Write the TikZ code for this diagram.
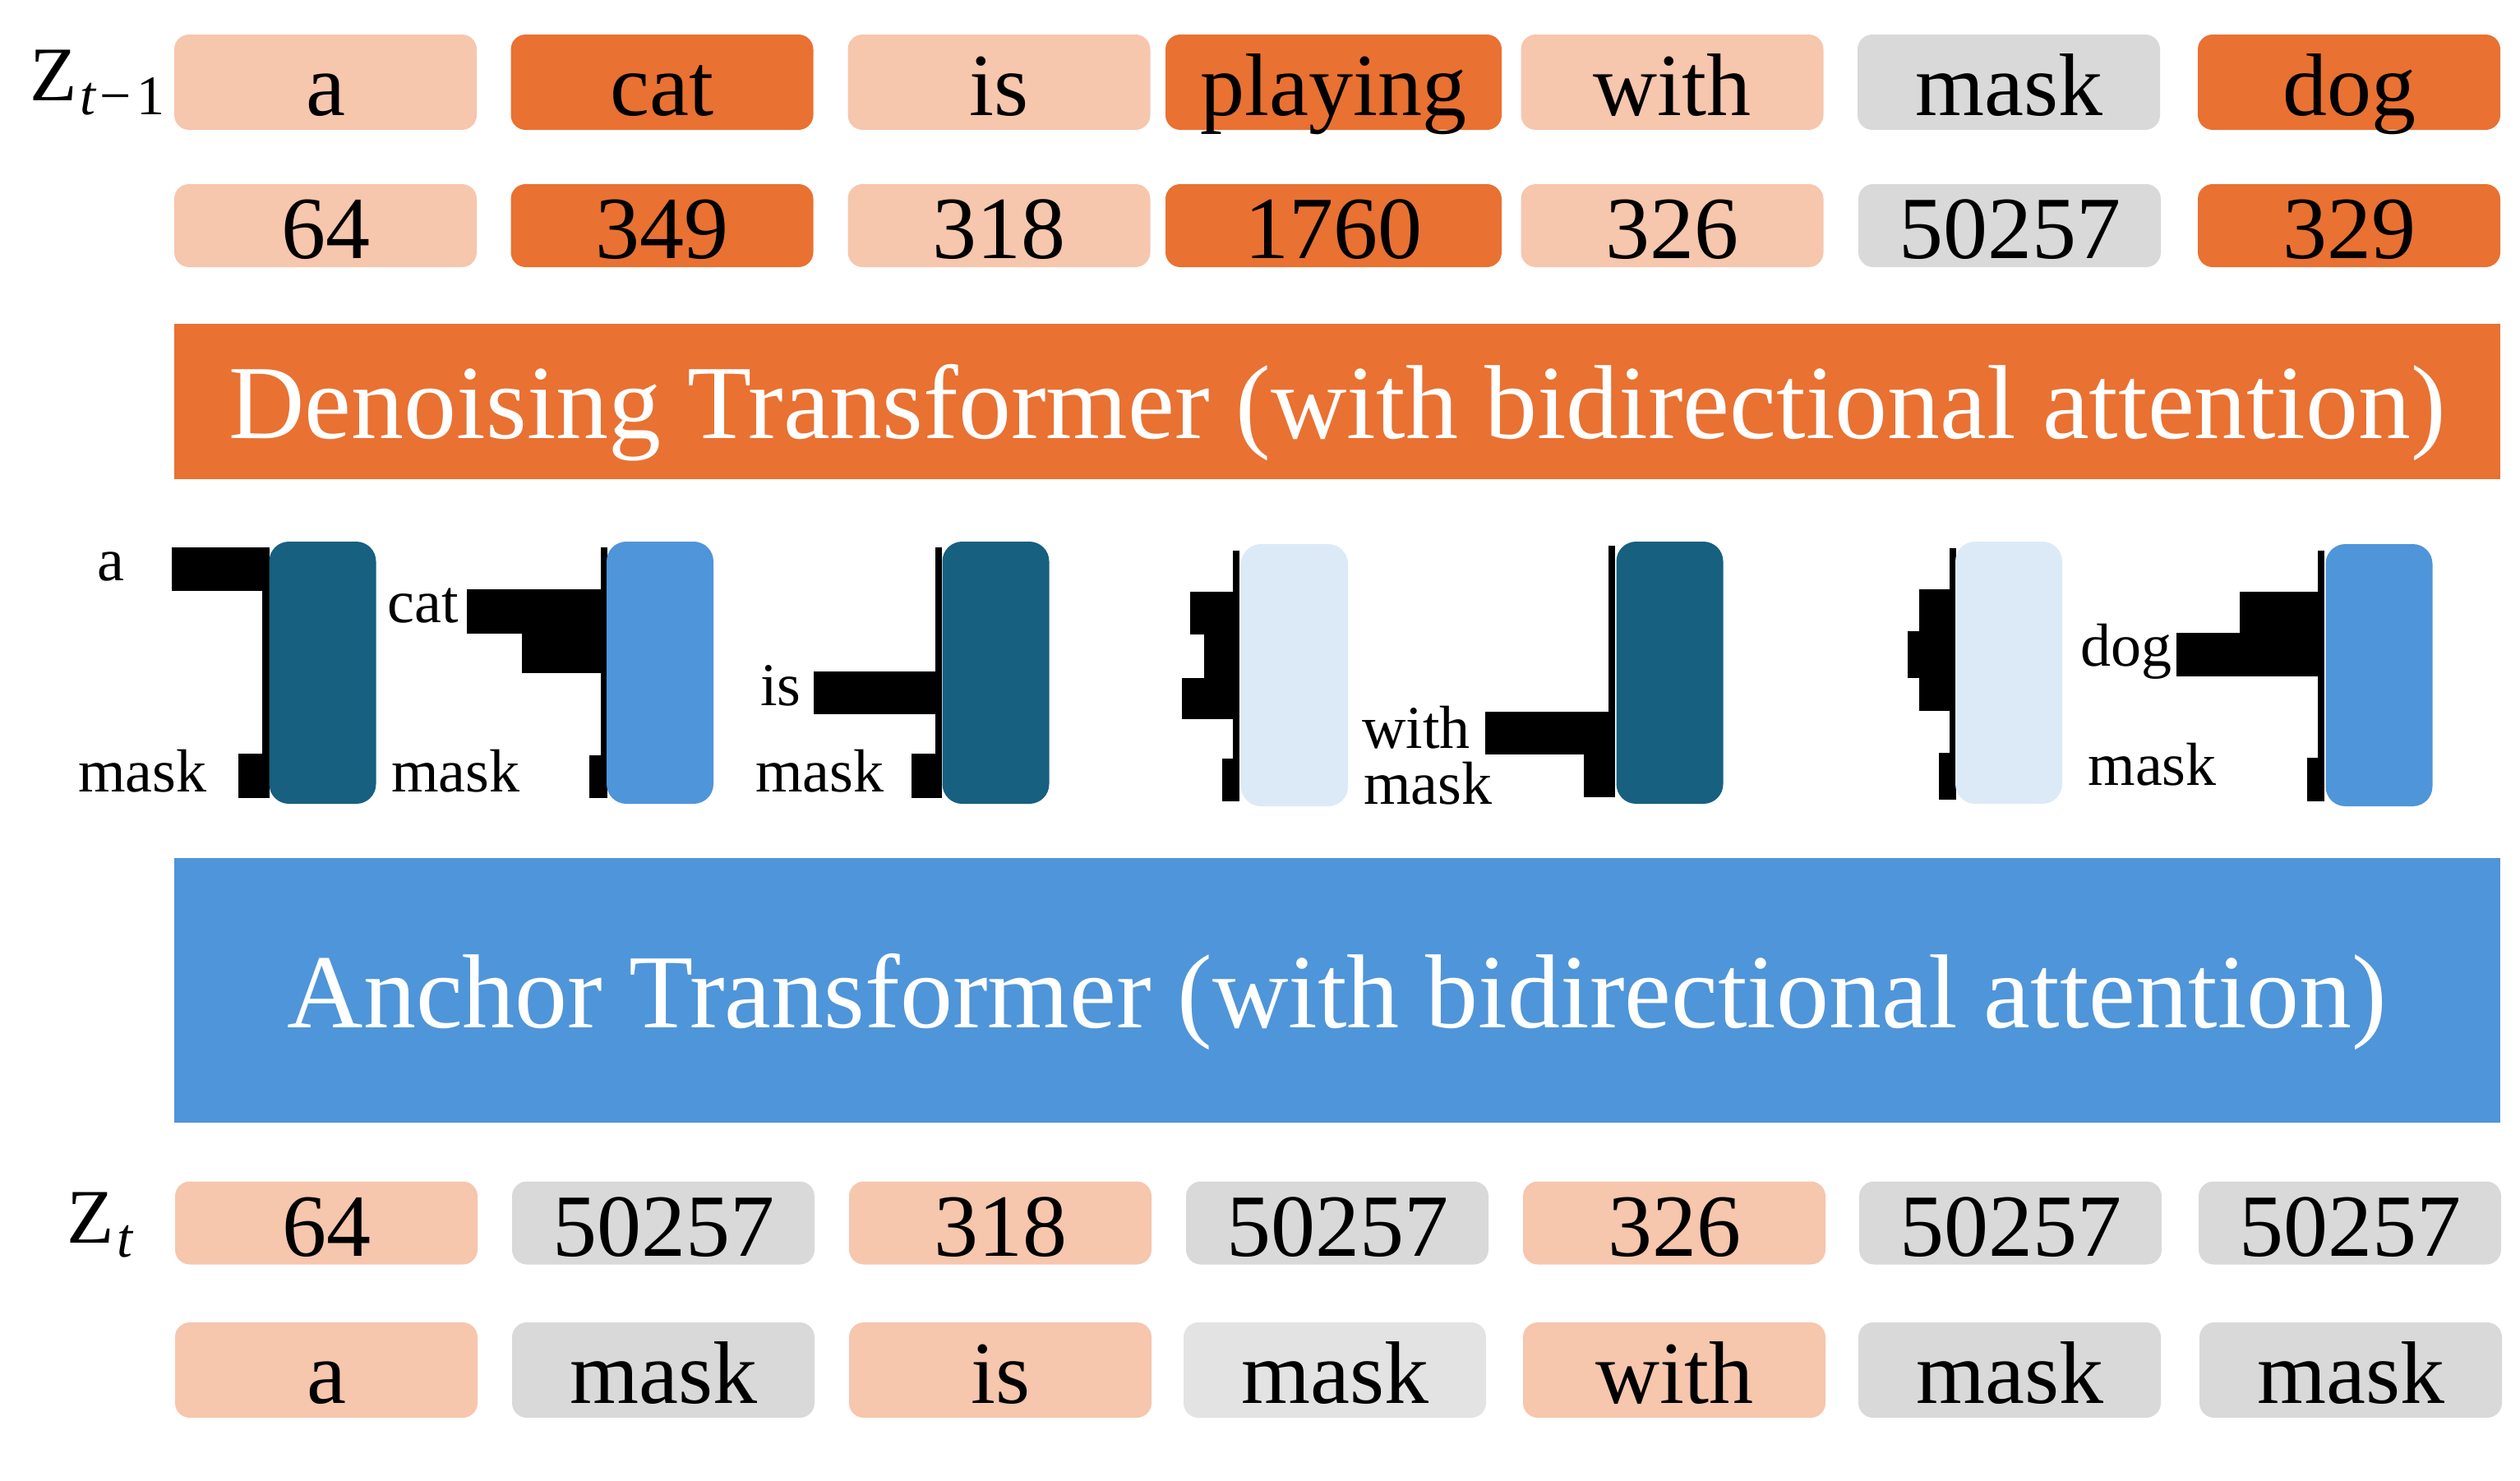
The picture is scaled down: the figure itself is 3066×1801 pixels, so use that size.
\documentclass[tikz,border=0pt]{standalone}
\usepackage{fontspec}
\setmainfont{Liberation Serif}
\definecolor{orng}{HTML}{E97132}
\definecolor{peach}{HTML}{F6C6AD}
\definecolor{gry}{HTML}{D9D9D9}
\definecolor{lgry}{HTML}{E3E3E3}
\definecolor{dkblue}{HTML}{17607F}
\definecolor{midblue}{HTML}{4F95D9}
\definecolor{ltblue}{HTML}{DCEAF7}
\begin{document}
\begin{tikzpicture}[x=0.5pt,y=-0.5pt,
  tok/.style={rounded corners=9pt, inner sep=0pt, minimum width=184pt,
    text height=44pt, text depth=4pt, font=\fontsize{54pt}{60pt}\selectfont},
  tallrow/.style={tok, minimum height=58pt},
  shortrow/.style={tok, minimum height=50.5pt},
  bigbar/.style={inner sep=0pt, minimum width=1415pt, text=white,
    text height=50pt, text depth=5pt, font=\fontsize{64pt}{70pt}\selectfont},
  hbox/.style={rounded corners=12pt, inner sep=0pt, minimum width=65pt, minimum height=159.5pt},
  hlab/.style={inner sep=0pt, anchor=base west, font=\fontsize{37pt}{40pt}\selectfont},
  zlab/.style={inner sep=0pt, anchor=base west}
]
\useasboundingbox (0,0) rectangle (3066,1801);

% ---------- Z_{t-1} rows ----------
\node[zlab] (zt1) at (36,122) {\fontsize{47pt}{50pt}\selectfont Z\kern2pt\raisebox{-8.5pt}{\fontsize{34pt}{36pt}\selectfont\itshape t\upshape\kern2.5pt−\kern3pt1}};
\node[tallrow, fill=peach]   (w1) at (396,100)    {a};
\node[tallrow, fill=orng]    (w2) at (805.5,100)  {cat};
\node[tallrow, fill=peach]   (w3) at (1215.5,100) {is};
\node[tallrow, fill=orng, minimum width=204.5pt] (w4) at (1622.5,100) {playing};
\node[tallrow, fill=peach]   (w5) at (2034.5,100) {with};
\node[tallrow, fill=gry]     (w6) at (2444,100)   {mask};
\node[tallrow, fill=orng]    (w7) at (2858,100)   {dog};

\node[shortrow, fill=peach]  (n1) at (396,274.5)    {64};
\node[shortrow, fill=orng]   (n2) at (805.5,274.5)  {349};
\node[shortrow, fill=peach]  (n3) at (1215.5,274.5) {318};
\node[shortrow, fill=orng, minimum width=204.5pt] (n4) at (1622.5,274.5) {1760};
\node[shortrow, fill=peach]  (n5) at (2034.5,274.5) {326};
\node[shortrow, fill=gry]    (n6) at (2445,274.5)   {50257};
\node[shortrow, fill=orng]   (n7) at (2858,274.5)   {329};

% ---------- Denoising transformer ----------
\node[bigbar, fill=orng, minimum height=94.5pt] (den) at (1627,488.5)
  {Denoising Transformer (with bidirectional attention)};

% ---------- attention histograms ----------
% panel 1 (a)
\fill (209,666) rectangle (319,719);
\fill (290,917) rectangle (319,971);
\fill (319,666) rectangle (328,971);
\node[hbox, fill=dkblue] (h1) at (392.5,818.5) {};
\node[hlab] (l1a) at (118,706) {a};
\node[hlab] (l1m) at (95,963) {mask};
% panel 2 (cat)
\fill (568,717) rectangle (731,771);
\fill (635,771) rectangle (731,819);
\fill (717,919) rectangle (731,971);
\fill (731,666) rectangle (739,971);
\node[hbox, fill=midblue] (h2) at (803,818.5) {};
\node[hlab] (l2a) at (471,757) {cat};
\node[hlab] (l2m) at (476,963) {mask};
% panel 3 (is)
\fill (990,817) rectangle (1138,869);
\fill (1109,917) rectangle (1138,971);
\fill (1138,666) rectangle (1146,971);
\node[hbox, fill=dkblue] (h3) at (1211.5,818.5) {};
\node[hlab] (l3a) at (925,858) {is};
\node[hlab] (l3m) at (919,963) {mask};
% panel 4
\fill (1448,720) rectangle (1500,772);
\fill (1465,772) rectangle (1500,825);
\fill (1438,825) rectangle (1500,875);
\fill (1487,923) rectangle (1500,975);
\fill (1500,670) rectangle (1508,975);
\node[hbox, fill=ltblue] (h4) at (1575,821.5) {};
% panel 5 (with)
\fill (1807,866) rectangle (1957,918);
\fill (1927,918) rectangle (1957,970);
\fill (1957,664) rectangle (1965,970);
\node[hbox, fill=dkblue] (h5) at (2031.5,818.5) {};
\node[hlab] (l5a) at (1657,910) {with};
\node[hlab] (l5m) at (1659,978) {mask};
% panel 6
\fill (2335,717) rectangle (2372,768);
\fill (2321,768) rectangle (2372,825);
\fill (2335,825) rectangle (2372,865);
\fill (2359,916) rectangle (2372,973);
\fill (2372,667) rectangle (2380,973);
\node[hbox, fill=ltblue] (h6) at (2444,818.5) {};
% panel 7 (dog)
\fill (2725,720) rectangle (2820,770);
\fill (2648,770) rectangle (2820,823);
\fill (2807,922) rectangle (2820,975);
\fill (2820,670) rectangle (2828,975);
\node[hbox, fill=midblue] (h7) at (2894.5,821.5) {};
\node[hlab] (l7a) at (2531,810) {dog};
\node[hlab] (l7m) at (2540,955) {mask};

% ---------- Anchor transformer ----------
\node[bigbar, fill=midblue, minimum height=161pt] (anc) at (1627,1205)
  {Anchor Transformer (with bidirectional attention)};

% ---------- Z_t rows ----------
\node[zlab] (zt) at (81,1512) {\fontsize{47pt}{50pt}\selectfont Z\kern2pt\raisebox{-8.5pt}{\fontsize{34pt}{36pt}\selectfont\itshape t}};
\node[shortrow, fill=peach] (m1) at (397,1488)  {64};
\node[shortrow, fill=gry]   (m2) at (807,1488)  {50257};
\node[shortrow, fill=peach] (m3) at (1217,1488) {318};
\node[shortrow, fill=gry]   (m4) at (1627,1488) {50257};
\node[shortrow, fill=peach] (m5) at (2037,1488) {326};
\node[shortrow, fill=gry]   (m6) at (2446,1488) {50257};
\node[shortrow, fill=gry]   (m7) at (2859,1488) {50257};

\node[tallrow, fill=peach] (b1) at (397,1667)  {a};
\node[tallrow, fill=gry]   (b2) at (807,1667)  {mask};
\node[tallrow, fill=peach] (b3) at (1217,1667) {is};
\node[tallrow, fill=lgry]  (b4) at (1624,1667) {mask};
\node[tallrow, fill=peach] (b5) at (2037,1667) {with};
\node[tallrow, fill=gry]   (b6) at (2445,1667) {mask};
\node[tallrow, fill=gry]   (b7) at (2860,1667) {mask};
\end{tikzpicture}
\end{document}
